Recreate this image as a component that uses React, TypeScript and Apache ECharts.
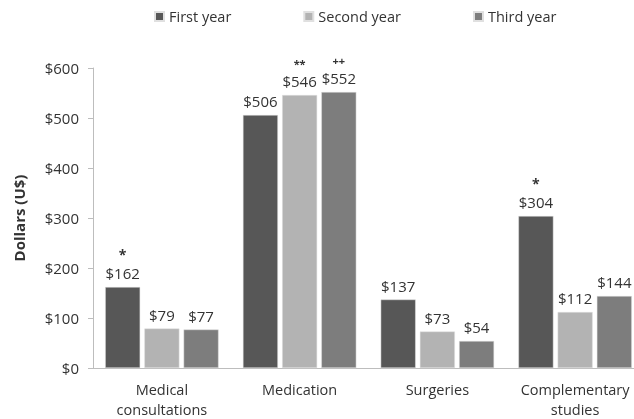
import React, { useEffect, useRef } from "react";
import * as echarts from "echarts";

const categories = ["Medical\nconsultations", "Medication", "Surgeries", "Complementary\nstudies"];
const seriesNames = ["First year", "Second year", "Third year"];
const firstYear = [162, 506, 137, 304];
const secondYear = [79, 546, 73, 112];
const thirdYear = [77, 552, 54, 144];
const firstMarks = ["*", "", "", "*"];
const secondMarks = ["", "**", "", ""];
const thirdMarks = ["", "++", "", ""];
const colors = ["#575757", "#b3b3b3", "#7d7d7d"];
const yTicks = [0, 100, 200, 300, 400, 500, 600];

const FONT = "'Open Sans', 'Noto Sans', sans-serif";

export default function App() {
  const ref = useRef<HTMLDivElement>(null);
  useEffect(() => {
    if (!ref.current) return;
    const chart = echarts.init(ref.current, null, { renderer: "svg" });
    const data = [firstYear, secondYear, thirdYear];
    const marks = [firstMarks, secondMarks, thirdMarks];
    chart.setOption({
      animation: false,
      textStyle: { fontFamily: FONT },
      legend: {
        left: 149,
        top: 4,
        itemWidth: 9,
        itemHeight: 9,
        itemGap: 72,
        icon: "rect",
        textStyle: { fontSize: 14.5, color: "#333", fontFamily: FONT },
        data: seriesNames,
      },
      grid: { left: 93, width: 551, top: 68, bottom: 51, outerBoundsMode: "none", containLabel: false },
      xAxis: {
        type: "category",
        data: categories,
        axisLine: { lineStyle: { color: "#bdbdbd" } },
        axisTick: { show: false },
        axisLabel: { fontSize: 14.5, color: "#333", margin: 11, lineHeight: 20, interval: 0, fontFamily: FONT },
      },
      yAxis: {
        type: "value",
        min: yTicks[0],
        max: yTicks[yTicks.length - 1],
        interval: 100,
        name: "Dollars (U$)",
        nameLocation: "middle",
        nameGap: 67,
        nameTextStyle: { fontSize: 15, fontWeight: "bold", color: "#333", fontFamily: FONT },
        axisLine: { show: true, lineStyle: { color: "#bdbdbd" } },
        axisTick: { show: true, length: 5, lineStyle: { color: "#bdbdbd" } },
        splitLine: { show: false },
        axisLabel: { fontSize: 15, color: "#333", margin: 14, formatter: (v: number) => "$" + v, fontFamily: FONT },
      },
      series: seriesNames.map((name, si) => ({
        name,
        type: "bar",
        barWidth: 35,
        barGap: "12%",
        itemStyle: { color: colors[si], borderColor: "#e0e0e0", borderWidth: 0.5 },
        data: data[si],
        label: {
          show: true,
          position: "top",
          distance: 5,
          formatter: (p: any) => {
            const m = marks[p.seriesIndex][p.dataIndex];
            if (!m) return `{v|$${p.value}}`;
            return m === "*" ? `{a|${m}}\n{v|$${p.value}}` : `{m|${m}}\n{v|$${p.value}}`;
          },
          rich: {
            v: { fontSize: 15, color: "#333", fontFamily: FONT, lineHeight: 18 },
            a: { fontSize: 14, color: "#333", fontWeight: "bold", fontFamily: FONT, lineHeight: 20 },
            m: { fontSize: 11, color: "#333", fontWeight: "bold", fontFamily: FONT, lineHeight: 18 },
          },
        },
      })),
    });
    return () => chart.dispose();
  }, []);
  return <div ref={ref} style={{ position: "fixed", left: 0, top: 0, width: 634, height: 419 }} />;
}
